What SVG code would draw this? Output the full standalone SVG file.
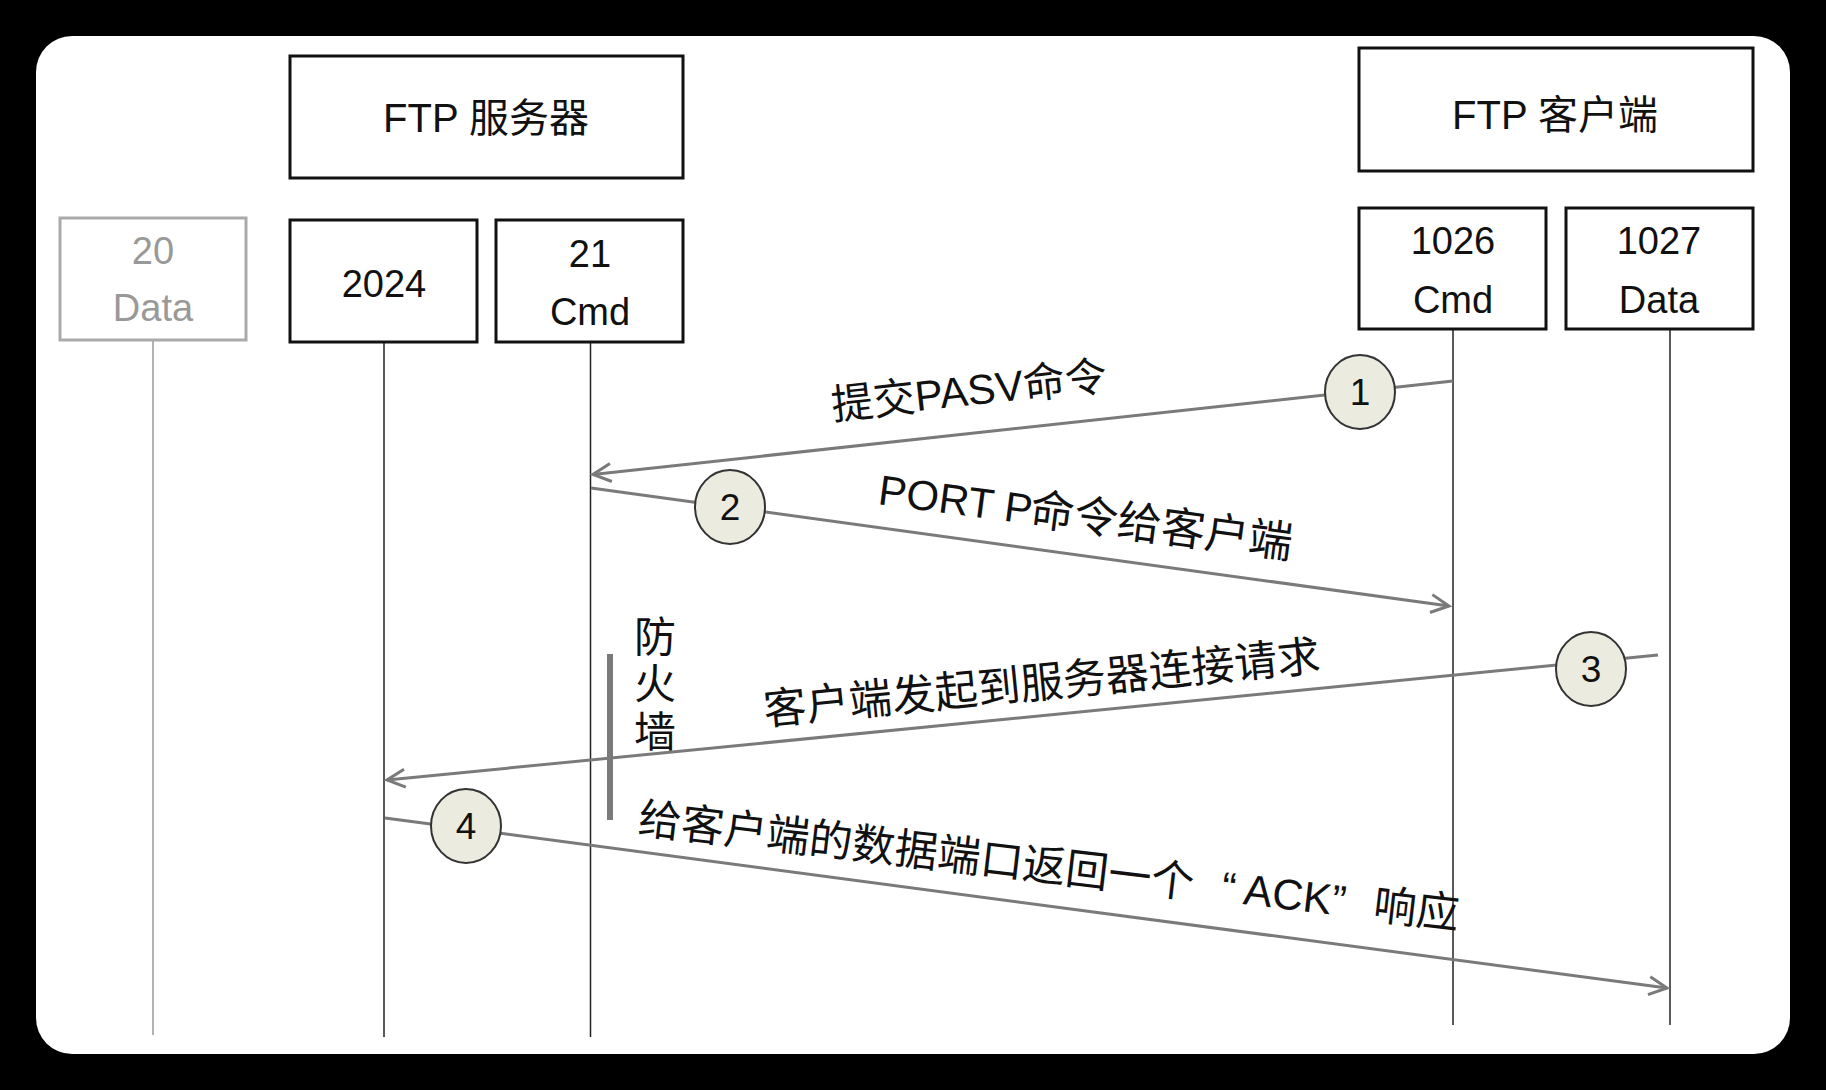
<svg xmlns="http://www.w3.org/2000/svg" width="1826" height="1090" viewBox="0 0 1826 1090">
<style>
.box{fill:#fff;stroke:#111;stroke-width:3}
.gbox{fill:#fff;stroke:#aaa;stroke-width:3}
.t{font-family:"Liberation Sans","Noto Sans CJK SC",sans-serif;fill:#111;text-anchor:middle}
.gt{font-family:"Liberation Sans","Noto Sans CJK SC",sans-serif;fill:#999;text-anchor:middle}
.life{stroke:#222;stroke-width:1.5}
.glife{stroke:#999;stroke-width:1.5}
.msg{stroke:#7a7a7a;stroke-width:3;fill:none;marker-end:url(#arr)}
.lbl{font-family:"Liberation Sans","Noto Sans CJK SC",sans-serif;fill:#111;font-size:42px}
.num{fill:#ecebdf;stroke:#333;stroke-width:2}
.nt{font-family:"Liberation Sans",sans-serif;font-size:37px;fill:#111;text-anchor:middle}
</style>
<defs>
<marker id="arr" markerUnits="userSpaceOnUse" markerWidth="26" markerHeight="26" refX="21" refY="12" orient="auto">
<path d="M3,3 L21,12 L3,21" fill="none" stroke="#7a7a7a" stroke-width="3"/>
</marker>
</defs>
<rect x="0" y="0" width="1826" height="1090" fill="#000"/>
<rect x="36" y="36" width="1754" height="1018" rx="36" fill="#fff"/>

<g id="lifelines">
<line class="glife" x1="153" y1="340" x2="153" y2="1035"/>
<line class="life" x1="384" y1="342" x2="384" y2="1037"/>
<line class="life" x1="590.5" y1="342" x2="590.5" y2="1037"/>
<line class="life" x1="1453" y1="329" x2="1453" y2="1025"/>
<line class="life" x1="1670" y1="329" x2="1670" y2="1025"/>
</g>

<g id="server">
<rect class="box" x="290" y="56" width="393" height="122"/>
<text class="t" x="486" y="132" font-size="40">FTP 服务器</text>
</g>
<g id="client">
<rect class="box" x="1359" y="48" width="394" height="123"/>
<text class="t" x="1555" y="129" font-size="40">FTP 客户端</text>
</g>
<g id="port20">
<rect class="gbox" x="60" y="218" width="186" height="122"/>
<text class="gt" x="153" y="264" font-size="38">20</text>
<text class="gt" x="153" y="321" font-size="38">Data</text>
</g>
<g id="port2024">
<rect class="box" x="290" y="220" width="187" height="122"/>
<text class="t" x="384" y="297" font-size="38">2024</text>
</g>
<g id="port21">
<rect class="box" x="496" y="220" width="187" height="122"/>
<text class="t" x="590" y="267" font-size="38">21</text>
<text class="t" x="590" y="325" font-size="38">Cmd</text>
</g>
<g id="port1026">
<rect class="box" x="1359" y="208" width="187" height="121"/>
<text class="t" x="1453" y="254" font-size="38">1026</text>
<text class="t" x="1453" y="313" font-size="38">Cmd</text>
</g>
<g id="port1027">
<rect class="box" x="1566" y="208" width="187" height="121"/>
<text class="t" x="1659" y="254" font-size="38">1027</text>
<text class="t" x="1659" y="313" font-size="38">Data</text>
</g>

<g id="firewall">
<line x1="610" y1="654" x2="610" y2="820" stroke="#7a7a7a" stroke-width="6"/>
<text class="t" x="655" y="652" font-size="42">防</text>
<text class="t" x="655" y="699" font-size="42">火</text>
<text class="t" x="655" y="747" font-size="42">墙</text>
</g>

<g id="connectors">
<line class="msg" x1="1453" y1="381" x2="593" y2="474.5"/>
<line class="msg" x1="591" y1="488" x2="1449" y2="606"/>
<line class="msg" x1="1658" y1="655" x2="387" y2="780"/>
<line class="msg" x1="385" y1="818" x2="1667" y2="988"/>
</g>

<g id="labels">
<text class="lbl" x="833" y="420" transform="rotate(-6.2 833 420)">提交PASV命令</text>
<text class="lbl" x="877" y="504" transform="rotate(7.5 877 504)">PORT P<tspan dx="-2" style="font-size:44px">命令给客户端</tspan></text>
<text class="lbl" x="765" y="725" style="font-size:43px" transform="rotate(-5.6 765 725)">客户端发起到服务器连接请求</text>
<text class="lbl" x="637" y="833" style="font-size:43px" transform="rotate(6.7 637 833)">给客户端的数据端口返回一个<tspan dx="28">“</tspan><tspan dx="8">ACK</tspan><tspan>”</tspan><tspan dx="28">响应</tspan></text>
</g>

<g id="step1">
<ellipse class="num" cx="1360" cy="392" rx="35" ry="37"/>
<text class="nt" x="1360" y="405">1</text>
</g>
<g id="step2">
<ellipse class="num" cx="730" cy="507" rx="35" ry="37"/>
<text class="nt" x="730" y="520">2</text>
</g>
<g id="step3">
<ellipse class="num" cx="1591" cy="669" rx="35" ry="37"/>
<text class="nt" x="1591" y="682">3</text>
</g>
<g id="step4">
<ellipse class="num" cx="466" cy="826" rx="35" ry="37"/>
<text class="nt" x="466" y="839">4</text>
</g>
</svg>
